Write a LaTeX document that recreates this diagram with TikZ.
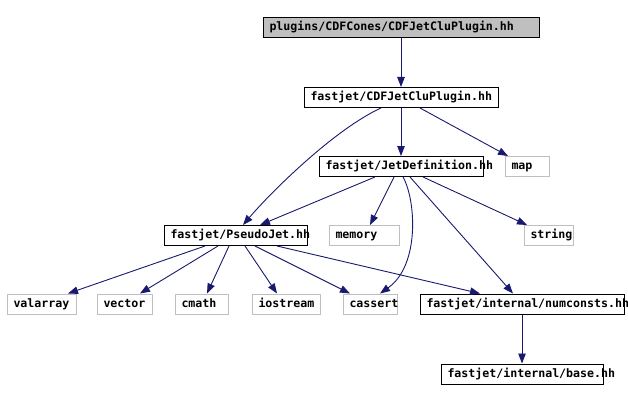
\documentclass[tikz,border=0pt]{standalone}
\usepackage{fontspec}
\usepackage{tikz}
\usetikzlibrary{arrows.meta}
\newfontfamily\incfont[HyphenChar=None]{DejaVu Sans Mono}
\definecolor{edgeblue}{HTML}{191970}
\definecolor{sysgray}{HTML}{BFBFBF}
\tikzset{
  file/.style={draw=black, line width=1pt, text width=#1, align=left,
    inner xsep=6.5pt, inner ysep=0pt, minimum height=20pt,
    text height=8.5pt, text depth=2.5pt,
    font=\incfont\bfseries\fontsize{11.6}{12}\selectfont},
  sysfile/.style={file=#1, draw=sysgray},
  edge/.style={->, draw=edgeblue, line width=0.9pt}
}
\begin{document}
\begin{tikzpicture}[x=1pt,y=-1pt,>={Triangle[length=10pt,width=7.5pt]}]
  \useasboundingbox (0,0) rectangle (628,401);

  \node[file=263pt, fill=sysgray] (src) at (401,28) {plugins/CDFCones/CDFJetCluPlugin.hh};
  \node[file=181pt] (cdf) at (401,97.5) {fastjet/CDFJetCluPlugin.hh};
  \node[file=151pt] (jetdef) at (401,166.5) {fastjet/JetDefinition.hh};
  \node[sysfile=31pt] (map) at (527,166.5) {map};
  \node[file=130pt] (pseudo) at (235.5,235.5) {fastjet/PseudoJet.hh};
  \node[sysfile=57pt] (memory) at (364,235.5) {memory};
  \node[sysfile=36pt] (string) at (548.5,235.5) {string};

  \node[sysfile=56pt] (valarray) at (41.5,304) {valarray};
  \node[sysfile=42pt] (vector) at (124.5,304) {vector};
  \node[sysfile=40pt] (cmath) at (201.5,304) {cmath};
  \node[sysfile=55pt] (iostream) at (286,304) {iostream};
  \node[sysfile=41pt] (cassert) at (370,304) {cassert};
  \node[file=191pt] (numconsts) at (522,304) {fastjet/internal/numconsts.hh};
  \node[file=149pt] (base) at (522,374) {fastjet/internal/base.hh};

  % includes
  \draw[edge] (src) -- (cdf);
  \draw[edge] ([xshift=-20pt]cdf.south) .. controls +(-46,21) and +(29,-34) .. ([xshift=7.5pt]pseudo.north);
  \draw[edge] (cdf) -- (jetdef);
  \draw[edge] ([xshift=19pt]cdf.south) -- ([xshift=-19pt]map.north);

  \draw[edge] ([xshift=-26pt]jetdef.south) -- ([xshift=24.5pt]pseudo.north);
  \draw[edge] ([xshift=-7pt]jetdef.south) -- ([xshift=6pt]memory.north);
  \draw[edge] ([xshift=2pt]jetdef.south) .. controls +(13,23) and +(40,-28) .. ([xshift=10pt]cassert.north);
  \draw[edge] ([xshift=9pt]jetdef.south) -- ([xshift=-9pt]numconsts.north);
  \draw[edge] ([xshift=22pt]jetdef.south) -- ([xshift=-21.5pt]string.north);

  \draw[edge] ([xshift=-30.5pt]pseudo.south) -- ([xshift=26.5pt]valarray.north);
  \draw[edge] ([xshift=-17.5pt]pseudo.south) -- ([xshift=15.5pt]vector.north);
  \draw[edge] ([xshift=-6.5pt]pseudo.south) -- ([xshift=5.5pt]cmath.north);
  \draw[edge] ([xshift=9.5pt]pseudo.south) -- ([xshift=-9pt]iostream.north);
  \draw[edge] ([xshift=19.5pt]pseudo.south) -- ([xshift=-20pt]cassert.north);
  \draw[edge] ([xshift=41.5pt]pseudo.south) -- ([xshift=-42pt]numconsts.north);

  \draw[edge] (numconsts) -- (base);
\end{tikzpicture}
\end{document}
